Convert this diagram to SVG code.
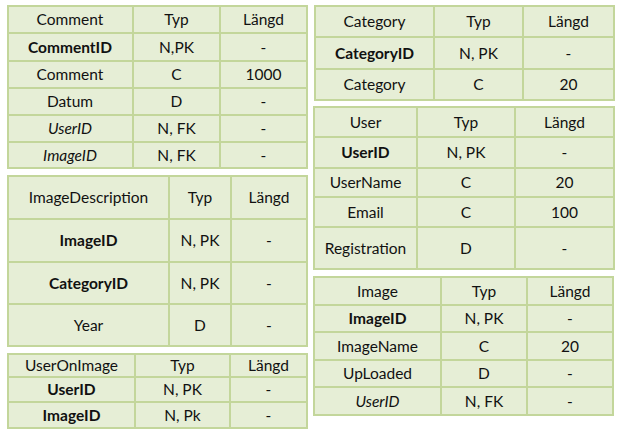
<svg xmlns="http://www.w3.org/2000/svg" width="621" height="437" viewBox="0 0 621 437">
  <style>
    .cell { fill: #E6EED6; stroke: #C3D69B; stroke-width: 2; }
    .grid { stroke: #C3D69B; stroke-width: 2; fill: none; }
    text { font-family: Lato, "Open Sans", "Liberation Sans", sans-serif; font-size: 15.5px; fill: #111; text-anchor: middle; }
    .b { font-weight: bold; }
    .i { font-style: italic; }
  </style>
  <rect width="621" height="437" fill="#fff"/>

  <!-- Comment table -->
  <g id="comment">
    <rect class="cell" x="8" y="6" width="299" height="162"/>
    <path class="grid" d="M133 6V168M220 6V168M8 33H307M8 61H307M8 88H307M8 115H307M8 142H307"/>
    <text x="70" y="25">Comment</text><text x="176.5" y="25">Typ</text><text x="263.5" y="25">Längd</text>
    <text x="70" y="52.5" class="b">CommentID</text><text x="176.5" y="52.5">N,PK</text><text x="263.5" y="52.5">-</text>
    <text x="70" y="80">Comment</text><text x="176.5" y="80">C</text><text x="263.5" y="80">1000</text>
    <text x="70" y="107">Datum</text><text x="176.5" y="107">D</text><text x="263.5" y="107">-</text>
    <text x="70" y="134" class="i">UserID</text><text x="176.5" y="134">N, FK</text><text x="263.5" y="134">-</text>
    <text x="70" y="160.5" class="i">ImageID</text><text x="176.5" y="160.5">N, FK</text><text x="263.5" y="160.5">-</text>
  </g>

  <!-- Category table -->
  <g id="category">
    <rect class="cell" x="315" y="6" width="299" height="94"/>
    <path class="grid" d="M434 6V100M523 6V100M315 37H614M315 69H614"/>
    <text x="374.5" y="27">Category</text><text x="478.5" y="27">Typ</text><text x="568.5" y="27">Längd</text>
    <text x="374.5" y="58.5" class="b">CategoryID</text><text x="478.5" y="58.5">N, PK</text><text x="568.5" y="58.5">-</text>
    <text x="374.5" y="90">Category</text><text x="478.5" y="90">C</text><text x="568.5" y="90">20</text>
  </g>

  <!-- User table -->
  <g id="user">
    <rect class="cell" x="314" y="107" width="300" height="162"/>
    <path class="grid" d="M417 107V269M515 107V269M314 137H614M314 168H614M314 197H614M314 227H614"/>
    <text x="365.5" y="127.5">User</text><text x="466" y="127.5">Typ</text><text x="564.5" y="127.5">Längd</text>
    <text x="365.5" y="158" class="b">UserID</text><text x="466" y="158">N, PK</text><text x="564.5" y="158">-</text>
    <text x="365.5" y="188">UserName</text><text x="466" y="188">C</text><text x="564.5" y="188">20</text>
    <text x="365.5" y="217.5">Email</text><text x="466" y="217.5">C</text><text x="564.5" y="217.5">100</text>
    <text x="365.5" y="253.5">Registration</text><text x="466" y="253.5">D</text><text x="564.5" y="253.5">-</text>
  </g>

  <!-- ImageDescription table -->
  <g id="imagedescription">
    <rect class="cell" x="8" y="176" width="299" height="170"/>
    <path class="grid" d="M169 176V346M231 176V346M8 219H307M8 262H307M8 304H307"/>
    <text x="88.5" y="203">ImageDescription</text><text x="200" y="203">Typ</text><text x="269" y="203">Längd</text>
    <text x="88.5" y="246" class="b">ImageID</text><text x="200" y="246">N, PK</text><text x="269" y="246">-</text>
    <text x="88.5" y="288.5" class="b">CategoryID</text><text x="200" y="288.5">N, PK</text><text x="269" y="288.5">-</text>
    <text x="88.5" y="330.5">Year</text><text x="200" y="330.5">D</text><text x="269" y="330.5">-</text>
  </g>

  <!-- UserOnImage table -->
  <g id="useronimage">
    <rect class="cell" x="8" y="354" width="299" height="74"/>
    <path class="grid" d="M135 354V428M230 354V428M8 377H307M8 402H307"/>
    <text x="71.5" y="371">UserOnImage</text><text x="182.5" y="371">Typ</text><text x="268.5" y="371">Längd</text>
    <text x="71.5" y="395" class="b">UserID</text><text x="182.5" y="395">N, PK</text><text x="268.5" y="395">-</text>
    <text x="71.5" y="420.5" class="b">ImageID</text><text x="182.5" y="420.5">N, Pk</text><text x="268.5" y="420.5">-</text>
  </g>

  <!-- Image table -->
  <g id="image">
    <rect class="cell" x="314" y="277" width="299" height="138"/>
    <path class="grid" d="M441 277V415M527 277V415M314 305H613M314 332H613M314 360H613M314 387H613"/>
    <text x="377.5" y="296.5">Image</text><text x="484" y="296.5">Typ</text><text x="570" y="296.5">Längd</text>
    <text x="377.5" y="324" class="b">ImageID</text><text x="484" y="324">N, PK</text><text x="570" y="324">-</text>
    <text x="377.5" y="351.5">ImageName</text><text x="484" y="351.5">C</text><text x="570" y="351.5">20</text>
    <text x="377.5" y="379">UpLoaded</text><text x="484" y="379">D</text><text x="570" y="379">-</text>
    <text x="377.5" y="406.5" class="i">UserID</text><text x="484" y="406.5">N, FK</text><text x="570" y="406.5">-</text>
  </g>

  <!-- no relationship lines are drawn between the tables -->
  <g id="connectors"/>
</svg>
